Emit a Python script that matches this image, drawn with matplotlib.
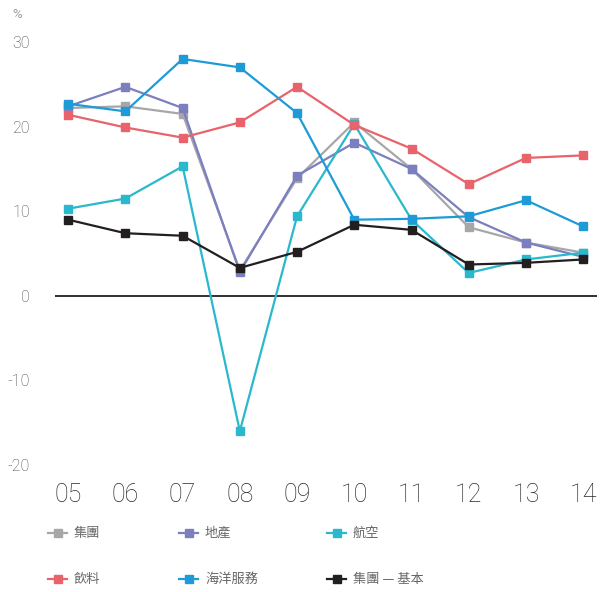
import matplotlib
matplotlib.use("Agg")
import matplotlib.pyplot as plt
from matplotlib.lines import Line2D

plt.rcParams["axes.unicode_minus"] = False

years = ["05", "06", "07", "08", "09", "10", "11", "12", "13", "14"]
group = [22.2, 22.4, 21.5, 3.0, 13.9, 20.5, 15.0, 8.1, 6.3, 5.1]
property_ = [22.4, 24.7, 22.2, 2.8, 14.2, 18.1, 15.0, 9.3, 6.3, 4.6]
aviation = [10.3, 11.5, 15.3, -16.0, 9.4, 20.3, 9.0, 2.7, 4.3, 5.1]
beverages = [21.4, 19.9, 18.7, 20.5, 24.7, 20.2, 17.4, 13.2, 16.3, 16.6]
marine = [22.7, 21.8, 28.0, 27.0, 21.6, 9.0, 9.1, 9.4, 11.3, 8.2]
group_basic = [9.0, 7.4, 7.1, 3.3, 5.2, 8.4, 7.8, 3.7, 3.9, 4.3]

series = [
    ("集團", group, "#a7a7a9"),
    ("地產", property_, "#7b7fc0"),
    ("航空", aviation, "#2ab8cc"),
    ("飲料", beverages, "#e8636b"),
    ("海洋服務", marine, "#1e9bd7"),
    ("集團 — 基本", group_basic, "#231f20"),
]

num_font = "Roboto"
cjk = ["Noto Sans CJK TC", "DejaVu Sans"]

fig = plt.figure(figsize=(6.11, 5.92), dpi=100)
ax = fig.add_axes([0.09, 0.2145, 0.887, 0.7145])

x = list(range(len(years)))
ax.axhline(0, color="#231f20", lw=1.3, zorder=1)
for name, vals, col in series:
    ax.plot(x, vals, color=col, lw=1.6, marker="s", markersize=5.5, zorder=3)

ax.set_xlim(-0.23, 9.24)
ax.set_ylim(-20, 30)
ax.set_yticks([-20, -10, 0, 10, 20, 30])
ax.set_xticks(x)
ax.set_xticklabels(years)
for s in ax.spines.values():
    s.set_visible(False)
ax.tick_params(length=0)
ax.tick_params(axis="y", pad=18, labelsize=11.5, labelcolor="#444444")
ax.tick_params(axis="x", pad=13, labelsize=18, labelcolor="#2a2a2a")
for lab in ax.get_xticklabels() + ax.get_yticklabels():
    lab.set_fontfamily(num_font)
    lab.set_fontweight("light")

fig.text(0.02, 0.975, "%", fontsize=9.5, color="#999999", family=num_font, va="center")

# legend drawn by hand to match the column spacing
cols = [48, 179, 327]
rows = [533, 579]
W, H = 611, 592
for i, (name, vals, col) in enumerate(series):
    cx = cols[i % 3]
    cy = rows[i // 3]
    fy = 1 - cy / H
    fig.add_artist(Line2D([cx / W, (cx + 19) / W], [fy, fy], color=col, lw=1.6,
                          transform=fig.transFigure))
    fig.add_artist(Line2D([(cx + 9.5) / W], [fy], color=col, marker="s", markersize=5.5,
                          transform=fig.transFigure))
    fig.text((cx + 26) / W, fy, name, family=cjk, fontsize=9.5, color="#666666", va="center")

fig.savefig("out.png", dpi=100)
